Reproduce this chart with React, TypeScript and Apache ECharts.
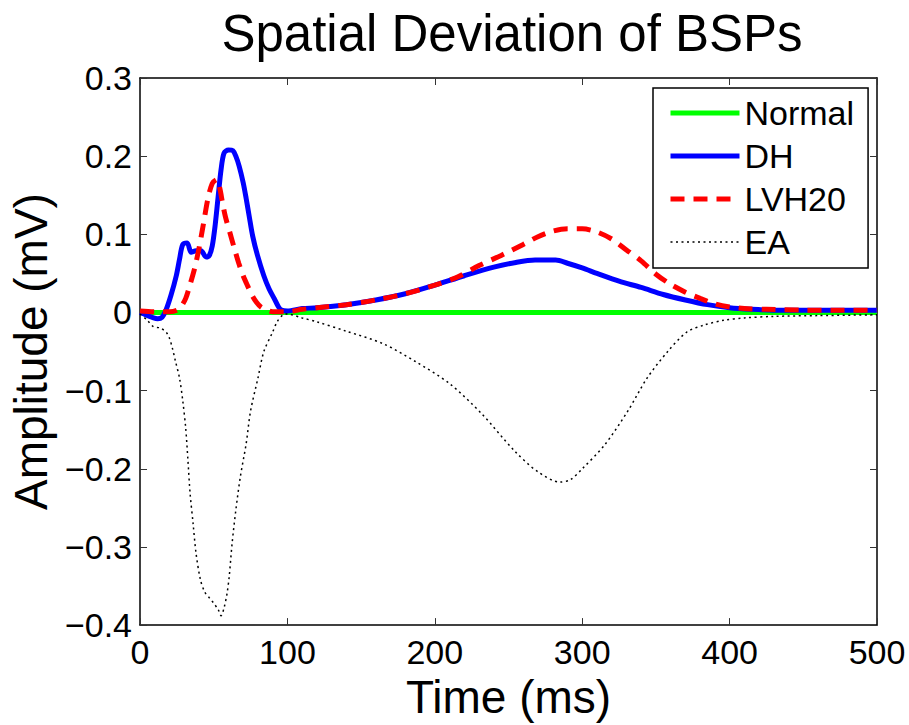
import React, { useEffect, useRef } from "react";
import * as echarts from "echarts";

const titleText = "Spatial Deviation of BSPs";
const xAxisName = "Time (ms)";
const yAxisName = "Amplitude (mV)";
const seriesNames = ["Normal", "DH", "LVH20", "EA"];

const normalTime = [0, 500];
const normalValues = [0, 0];

const dhTime = [0, 4, 8, 12, 15, 17.6, 21, 24.6, 26.8, 29, 32, 34.7, 38, 41.4, 44.8, 47, 49, 51, 53, 55, 57, 60, 63, 65, 67.3, 70, 72, 74, 76.4, 79.7, 84, 87.6, 91, 94, 96, 100, 110, 120, 140, 160, 180, 200, 220, 240, 255, 268, 275, 282, 290, 300, 310, 325, 340, 355, 370, 385, 400, 415, 430, 450, 475, 500];
const dhValues = [0, -0.003, -0.006, -0.008, -0.006, 0.003, 0.022, 0.047, 0.068, 0.087, 0.089, 0.077, 0.079, 0.079, 0.071, 0.073, 0.085, 0.112, 0.148, 0.183, 0.204, 0.208, 0.207, 0.2, 0.187, 0.166, 0.146, 0.124, 0.098, 0.073, 0.047, 0.03, 0.018, 0.007, 0.003, 0.002, 0.005, 0.006, 0.01, 0.016, 0.024, 0.035, 0.047, 0.058, 0.064, 0.067, 0.067, 0.067, 0.063, 0.057, 0.05, 0.04, 0.032, 0.023, 0.016, 0.01, 0.006, 0.004, 0.003, 0.003, 0.003, 0.003];

const lvhTime = [0, 10, 20, 25, 28, 31, 34, 37, 40, 43, 46, 49, 52, 54, 56, 58, 61, 64, 67, 70, 73, 76, 79, 82, 86, 90, 100, 110, 120, 140, 160, 180, 200, 215, 230, 245, 260, 270, 280, 290, 300, 310, 320, 330, 340, 350, 360, 370, 380, 390, 400, 410, 425, 450, 475, 500];
const lvhValues = [0.002, 0.001, 0.001, 0.003, 0.008, 0.018, 0.036, 0.056, 0.082, 0.113, 0.145, 0.165, 0.17, 0.16, 0.14, 0.122, 0.102, 0.082, 0.063, 0.047, 0.034, 0.022, 0.013, 0.007, 0.003, 0.001, 0.001, 0.004, 0.006, 0.01, 0.016, 0.024, 0.035, 0.045, 0.06, 0.073, 0.087, 0.097, 0.104, 0.107, 0.107, 0.103, 0.094, 0.08, 0.066, 0.049, 0.036, 0.026, 0.018, 0.011, 0.007, 0.005, 0.004, 0.003, 0.003, 0.003];

const eaTime = [0, 5, 9, 14, 18, 20, 22, 24, 26.8, 29, 31, 32.5, 34, 36, 38, 41, 44, 47, 50, 53, 55, 57, 59, 60.5, 62.5, 65, 68, 72, 75, 80, 84, 90, 93, 97, 100, 110, 120, 140, 165, 187, 210, 232, 254, 270, 285, 292, 300, 315, 331, 344, 358, 371, 383, 396, 410, 430, 460, 500];
const eaValues = [-0.002, -0.01, -0.018, -0.02, -0.026, -0.033, -0.046, -0.062, -0.084, -0.113, -0.148, -0.189, -0.232, -0.27, -0.308, -0.342, -0.358, -0.365, -0.372, -0.38, -0.388, -0.378, -0.36, -0.338, -0.295, -0.253, -0.211, -0.168, -0.126, -0.084, -0.05, -0.025, -0.012, -0.003, -0.002, -0.007, -0.012, -0.024, -0.04, -0.063, -0.091, -0.13, -0.177, -0.204, -0.217, -0.214, -0.2, -0.17, -0.126, -0.084, -0.05, -0.025, -0.016, -0.01, -0.007, -0.005, -0.004, -0.003];

const xMin = 0;
const xMax = 500;
const xInterval = 100;
const yMin = -0.4;
const yMax = 0.3;
const yInterval = 0.1;

const FONT = "'Liberation Sans', Arial, Helvetica, sans-serif";

function pairs(t: number[], v: number[]) {
  return t.map((x, i) => [x, v[i]]);
}

function fmtY(v: number) {
  const r = Math.round(v * 10) / 10;
  if (r === 0) return "0";
  return r < 0 ? "\u2212" + Math.abs(r).toFixed(1) : r.toFixed(1);
}

export default function App() {
  const ref = useRef<HTMLDivElement>(null);
  useEffect(() => {
    if (!ref.current) return;
    const chart = echarts.init(ref.current, null, { renderer: "svg" });
    const axisLine = { show: true, onZero: false, lineStyle: { color: "#000", width: 1.5 } };
    const tick = { show: true, inside: true, length: 7, lineStyle: { color: "#333", width: 1 } };
    chart.setOption({
      animation: false,
      backgroundColor: "#fff",
      title: {
        text: titleText,
        left: 507,
        textAlign: "center",
        top: 3,
        textStyle: { fontFamily: FONT, fontSize: 51, fontWeight: "normal", color: "#000" },
      },
      grid: { left: 137, right: 32, top: 78, bottom: 95, containLabel: false },
      legend: {
        orient: "vertical",
        left: 653,
        top: 88,
        data: seriesNames,
        backgroundColor: "#fff",
        borderColor: "#000",
        borderWidth: 1.5,
        borderRadius: 0,
        padding: [8, 14, 9, 15],
        itemGap: 9,
        itemWidth: 69,
        itemHeight: 14,
        selectedMode: false,
        itemStyle: { opacity: 0 },
        lineStyle: { width: "inherit", type: "inherit" },
        textStyle: { fontFamily: FONT, fontSize: 34, color: "#000" },
      },
      xAxis: [
        {
          type: "value",
          min: xMin,
          max: xMax,
          interval: xInterval,
          position: "bottom",
          name: xAxisName,
          nameLocation: "middle",
          nameGap: 27,
          nameTextStyle: { fontFamily: FONT, fontSize: 46, color: "#000" },
          axisLine,
          axisTick: tick,
          axisLabel: { fontFamily: FONT, fontSize: 34, color: "#000", margin: 10 },
          splitLine: { show: false },
        },
        {
          type: "value",
          min: xMin,
          max: xMax,
          interval: xInterval,
          position: "top",
          axisLine,
          axisTick: tick,
          axisLabel: { show: false },
          splitLine: { show: false },
        },
      ],
      yAxis: [
        {
          type: "value",
          min: yMin,
          max: yMax,
          interval: yInterval,
          position: "left",
          name: yAxisName,
          nameLocation: "middle",
          nameGap: 80,
          nameTextStyle: { fontFamily: FONT, fontSize: 46, color: "#000" },
          axisLine,
          axisTick: tick,
          axisLabel: { fontFamily: FONT, fontSize: 34, color: "#000", margin: 8, formatter: fmtY },
          splitLine: { show: false },
        },
        {
          type: "value",
          min: yMin,
          max: yMax,
          interval: yInterval,
          position: "right",
          axisLine,
          axisTick: tick,
          axisLabel: { show: false },
          splitLine: { show: false },
        },
      ],
      series: [
        {
          name: seriesNames[0],
          type: "line",
          data: pairs(normalTime, normalValues),
          symbol: "none",
          lineStyle: { color: "#00ff00", width: 5 },
          itemStyle: { color: "#00ff00" },
          z: 2,
        },
        {
          name: seriesNames[1],
          type: "line",
          data: pairs(dhTime, dhValues),
          symbol: "none",
          smooth: 0.3,
          lineStyle: { color: "#0000ff", width: 5 },
          itemStyle: { color: "#0000ff" },
          z: 3,
        },
        {
          name: seriesNames[2],
          type: "line",
          data: pairs(lvhTime, lvhValues),
          symbol: "none",
          smooth: 0.3,
          lineStyle: { color: "#ff0000", width: 5, type: [14, 9] },
          itemStyle: { color: "#ff0000" },
          z: 4,
        },
        {
          name: seriesNames[3],
          type: "line",
          data: pairs(eaTime, eaValues),
          symbol: "none",
          smooth: 0.3,
          lineStyle: { color: "#000", width: 1.5, type: [2, 3.5] },
          itemStyle: { color: "#000" },
          z: 5,
        },
      ],
    });
    return () => chart.dispose();
  }, []);
  return (
    <div
      ref={ref}
      style={{ position: "fixed", left: 0, top: 0, width: 909, height: 725, background: "#fff" }}
    />
  );
}
